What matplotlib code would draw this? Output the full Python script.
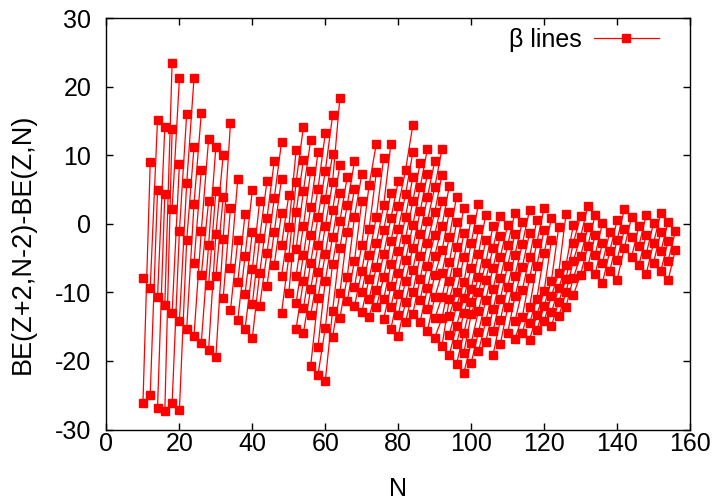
import matplotlib
matplotlib.use("Agg")
import matplotlib.pyplot as plt
from matplotlib.lines import Line2D

plt.rcParams['font.family'] = ['Liberation Sans', 'DejaVu Sans']
plt.rcParams['axes.unicode_minus'] = False

# neutron number of each column of points
n_cols = list(range(10, 158, 2))

# BE(Z+2,N-2)-BE(Z,N), one list per column (top to bottom)
be_diff = [
    [-7.9, -26.2],
    [9.0, -9.4, -24.9],
    [15.2, 4.9, -10.7, -26.8],
    [14.1, 4.3, -11.8, -27.3],
    [23.5, 13.8, 2.1, -13.0, -26.2],
    [21.2, 8.7, -1.1, -14.2, -27.1],
    [16.0, 5.9, -2.4, -15.3],
    [21.2, 11.2, 2.9, -5.7, -16.3],
    [16.1, 7.8, -1.1, -7.5, -17.4],
    [12.3, 3.3, -3.1, -8.9, -18.4],
    [11.2, 4.8, -1.5, -7.6, -19.4],
    [10.0, 3.9, -2.2, -10.8],
    [14.7, 2.3, -6.4, -12.6],
    [6.5, -2.4, -8.5, -14.0],
    [1.4, -4.7, -10.2, -15.3],
    [4.9, -1.2, -6.6, -11.7, -16.6],
    [3.3, -2.1, -7.2, -12.0],
    [6.2, 0.8, -4.3, -9.1],
    [9.1, 3.7, -1.2, -6.0],
    [11.9, 6.5, 1.6, -3.1, -7.6, -13.0],
    [4.2, -0.5, -4.8, -10.1],
    [10.7, 6.1, 1.7, -3.7, -7.6, -11.5, -15.3],
    [14.1, 9.3, 4.8, -0.3, -4.6, -8.3, -12.3, -15.9],
    [12.2, 7.7, 2.4, -1.6, -5.7, -9.5, -13.3, -20.7],
    [10.4, 5.1, 1.0, -3.1, -7.0, -10.8, -17.9, -22.0],
    [13.2, 7.7, 3.6, -0.4, -4.4, -8.3, -15.2, -22.9],
    [15.8, 10.1, 6.1, 2.0, -1.9, -5.8, -12.7, -16.5],
    [18.4, 8.5, 4.5, 0.4, -3.5, -10.1, -13.7],
    [6.8, 2.7, -1.2, -7.8, -11.3],
    [9.1, 5.1, 1.0, -5.4, -9.2, -12.0],
    [7.2, 3.3, -3.1, -6.9, -9.9, -12.9],
    [5.6, -0.8, -4.6, -8.0, -11.0, -13.6],
    [11.7, 7.5, 1.0, -2.8, -6.3, -9.6, -12.2],
    [9.6, 2.7, -0.9, -4.4, -7.8, -11.0, -13.9],
    [11.7, 4.5, 0.8, -2.5, -5.9, -9.1, -12.1, -15.3],
    [6.2, 2.6, -0.8, -4.0, -7.2, -10.2, -13.3, -16.3],
    [7.8, 4.3, 1.0, -2.2, -5.3, -8.3, -11.4, -14.3],
    [14.4, 10.4, 6.8, 3.3, -0.2, -3.5, -6.7, -9.9, -13.1],
    [8.8, 5.3, 1.8, -1.5, -4.7, -8.0, -11.1, -14.3],
    [10.9, 7.2, 3.9, 0.4, -2.8, -6.1, -9.4, -12.4, -15.6],
    [9.1, 5.3, 1.7, -1.6, -4.7, -7.5, -10.7, -13.8, -16.6],
    [10.9, 7.1, 3.3, -0.3, -3.9, -7.2, -10.7, -13.8, -17.8],
    [5.5, 1.7, -1.9, -5.6, -8.3, -11.0, -13.4, -16.2, -19.1],
    [3.9, 0.2, -3.4, -7.0, -9.9, -12.0, -14.9, -17.5, -20.4],
    [2.3, -1.4, -4.9, -8.5, -10.8, -13.0, -15.9, -18.8, -21.7],
    [0.7, -2.8, -6.4, -9.5, -11.4, -13.2, -17.4, -20.3],
    [2.9, -0.8, -4.4, -7.8, -9.9, -12.7, -15.8, -18.6],
    [1.3, -2.4, -5.7, -8.2, -11.1, -14.2, -17.2],
    [-0.3, -3.5, -6.4, -9.5, -12.5, -15.6, -19.1],
    [1.1, -1.8, -4.8, -7.9, -10.9, -14.0, -17.5],
    [-0.2, -3.1, -6.1, -9.2, -12.2, -15.9],
    [1.6, -1.5, -4.5, -7.6, -10.6, -14.2, -16.8],
    [0.25, -3.0, -6.3, -9.7, -13.6, -15.9],
    [2.0, -1.4, -4.8, -7.9, -12.1, -14.5, -16.9],
    [0.5, -2.8, -6.1, -10.9, -13.3, -15.5],
    [2.3, -0.9, -4.3, -9.8, -12.0, -14.2],
    [0.8, -2.4, -8.3, -10.5, -12.9, -14.9],
    [-0.5, -7.2, -9.4, -11.4, -13.5],
    [1.4, -6.0, -8.0, -10.0, -12.1],
    [-0.2, -2.8, -5.4, -7.9, -10.4],
    [1.1, -1.9, -4.7, -7.4],
    [2.6, -0.5, -3.2, -6.2],
    [1.3, -1.6, -4.5, -7.3],
    [0.1, -2.8, -5.7, -8.6],
    [-1.2, -4.0, -6.9],
    [0.5, -2.4, -5.3, -8.2],
    [2.1, -0.8, -3.5],
    [1.0, -1.9, -4.8],
    [-0.3, -3.2, -6.0],
    [1.3, -1.6, -4.4, -7.3],
    [0.1, -2.8, -5.7],
    [1.6, -1.2, -4.0, -6.9],
    [0.25, -2.5, -5.4, -8.2],
    [-1.1, -3.8],
]

# point i of a column joins point i + shift of the next column (same isobar)
link_shift = [-1, -1, -2, -2, -2, -2, -1, -2, -2, -2,
              -2, -2, -2, -2, -1, -2, -1, -1, -1, -3,
              -1, -1, -2, -2, -1, -1, -2, -3, -1, -2,
              -2, 0, -2, -1, -2, -1, 0, -3, -1, -2,
              -1, -3, -2, -2, -2, -1, -2, -2, -1, -2,
              -1, -2, -1, -2, -1, -2, -2, -1, -1, -1,
              -1, -2, -2, -2, -1, -1, -2, -2, -1, -2,
              -1, -2, -2]

fig = plt.figure(figsize=(7.16, 5.0), dpi=100)
ax = fig.add_axes([0.1487, 0.141, 0.815, 0.823])

for k in range(len(n_cols) - 1):
    nxt = be_diff[k + 1]
    for i, v in enumerate(be_diff[k]):
        j = i + link_shift[k]
        if 0 <= j < len(nxt):
            ax.plot([n_cols[k], n_cols[k + 1]], [v, nxt[j]],
                    color='red', lw=0.9, zorder=1)

xs = [n for n, col in zip(n_cols, be_diff) for _ in col]
ys = [v for col in be_diff for v in col]
ax.plot(xs, ys, ls='none', marker='s', ms=5.2, color='red', zorder=2)

ax.set_xlim(0, 160)
ax.set_ylim(-30, 30)
ax.set_xticks(range(0, 161, 20))
ax.set_yticks(range(-30, 31, 10))
ax.tick_params(direction='in', top=True, right=True, length=5, width=1,
               labelsize=18)
ax.tick_params(axis='x', pad=2)
ax.tick_params(axis='y', pad=11)
for s in ax.spines.values():
    s.set_linewidth(1)
ax.set_xlabel('N', fontsize=18)
ax.xaxis.set_label_coords(0.5, -0.115)
ax.set_ylabel('BE(Z+2,N-2)-BE(Z,N)', fontsize=19.5)
ax.yaxis.set_label_coords(-0.121, 0.452)

handle = Line2D([], [], color='red', lw=0.9, marker='s', ms=5.2)
ax.legend([handle], ['β lines'], loc='upper right', bbox_to_anchor=(0.985, 1.03),
          frameon=False, markerfirst=False, fontsize=18, handlelength=2.6,
          handletextpad=0.5)

fig.savefig('out.png', dpi=100)
